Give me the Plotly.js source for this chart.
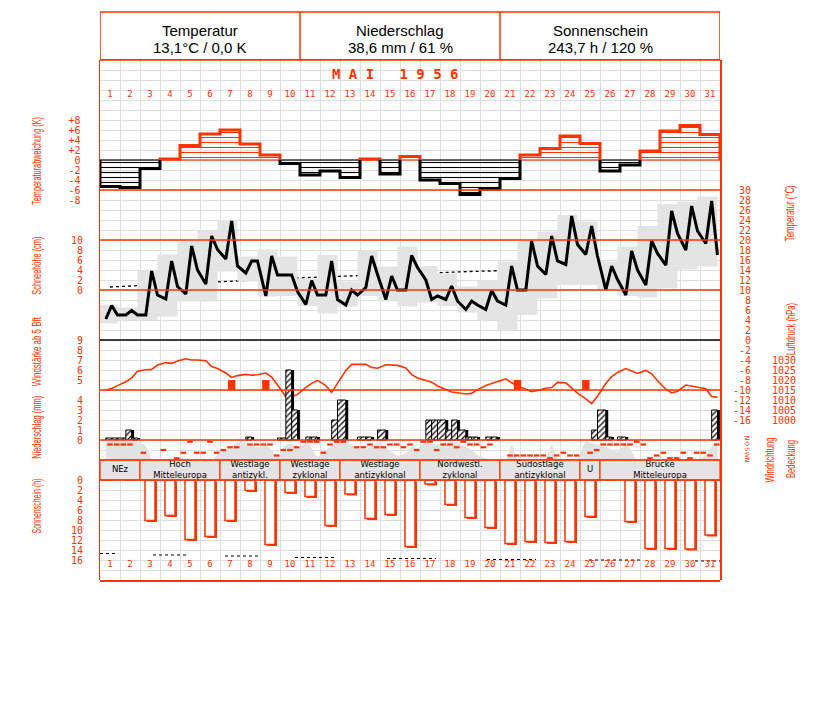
<!DOCTYPE html>
<html><head><meta charset="utf-8">
<script src="https://cdn.plot.ly/plotly-3.0.1.min.js"></script>
<style>html,body{margin:0;padding:0;background:#fff}#chart{width:827px;height:702px}</style>
</head><body><div id="chart"></div>
<script>
// ---------------- DATA ----------------
const days = [1,2,3,4,5,6,7,8,9,10,11,12,13,14,15,16,17,18,19,20,21,22,23,24,25,26,27,28,29,30,31];
const dayLabels = ['1','2','3','4','5','6','7','8','9','10','11','12','13','14','15','16','17','18','19','20','21','22','23','24','25','26','27','28','29','30','31'];
const obsHours = [7,14,21];

// daily temperature anomaly (K)
const anomaly = [-5.3,-5.5,-1.7,0.2,2.9,5.2,6.0,3.2,1.0,-0.7,-3.0,-2.2,-3.5,0.2,-2.8,0.7,-4.0,-4.7,-6.9,-5.8,-3.7,1.0,2.3,4.8,3.3,-2.2,-1.0,1.8,5.8,6.9,5.1];

// air temperature at 7, 14, 21 h (°C)
const tempObs = [4.2,6.9,5.0, 5.0,5.9,5.0, 5.0,13.8,9.0, 8.2,15.8,10.7, 9.2,18.8,14.0, 11.2,20.8,18.1,
 16.2,23.8,14.8, 13.4,15.8,15.8, 8.8,16.8,13.0, 13.0,13.0,9.7, 7.1,11.9,9.0, 9.0,15.8,8.1,
 7.0,10.0,9.0, 10.5,16.8,13.1, 8.1,12.8,10.0, 10.0,16.9,14.5, 12.0,8.1,8.8, 8.1,10.8,7.8,
 6.1,7.8,7.0, 6.1,9.9,7.8, 7.0,14.8,10.0, 10.0,19.8,14.8, 13.1,20.8,15.8, 15.1,24.8,19.1,
 17.1,22.8,16.8, 10.0,14.8,12.1, 9.0,17.8,14.0, 11.0,19.8,17.3, 15.0,25.8,21.3, 18.0,26.8,21.8,
 19.3,27.8,17.0];
// daily max / min (21h-21h)
const tMax = [7.1,6.5,14.0,17.1,19.7,21.8,24.0,16.7,18.1,16.7,12.3,17.0,11.7,18.0,14.7,18.7,14.8,13.3,10.7,11.9,15.7,20.0,21.7,25.0,23.7,15.7,18.7,22.8,27.2,27.7,28.7];
const tMin = [3.3,4.0,4.0,4.7,7.7,7.7,13.7,11.7,8.7,8.8,6.8,5.3,6.7,8.8,7.7,6.7,7.5,6.8,5.5,4.0,2.0,5.0,8.3,11.0,11.0,10.0,8.8,8.5,10.3,14.1,14.7];
// normal daily mean temperature
const tNormal = [10.6,10.8,11.0,11.2,11.4,11.6,11.8,12.0,12.2,12.4,12.6,12.7,12.8,13.0,13.2,13.3,13.4,13.6,13.7,13.8,14.0,14.1,14.2,14.3,14.4,14.5,14.6,14.8,14.9,15.0,15.1];

// air pressure at 7, 14, 21 h (hPa)
const pressure = [1015.0,1015.8,1017.2, 1019.1,1021.1,1024.4, 1025.1,1025.3,1027.5, 1028.7,1028.3,1029.5,
 1030.6,1030.0,1030.0, 1029.6,1026.7,1025.7, 1023.5,1021.3,1022.2, 1022.8,1022.4,1022.6,
 1023.5,1021.4,1017.6, 1011.5,1011.6,1012.8, 1016.3,1018.3,1019.8, 1017.2,1013.8,1018.5,
 1024.8,1027.8,1027.8, 1027.8,1026.3,1025.9, 1027.6,1027.3,1027.3, 1026.0,1022.7,1021.0,
 1019.9,1018.9,1017.0, 1015.0,1014.0,1013.6, 1013.0,1013.3,1015.2, 1017.2,1018.1,1019.1,
 1020.6,1018.6,1017.0, 1015.4,1014.2,1014.8, 1015.9,1016.2,1018.8, 1018.6,1015.8,1013.4,
 1010.6,1008.2,1011.9, 1018.2,1021.7,1023.8, 1025.7,1024.4,1023.3, 1024.8,1023.1,1019.6,
 1015.4,1013.5,1014.4, 1017.5,1017.0,1016.2, 1015.6,1011.7,1011.3];

// wind force >= 5 Bft
const windDay = [7,9,21,25];
const windHour = [14,7,21,7];
const windForce = [5,5,5,5];

// precipitation per observation interval (ending at day/hour)
const precDay  = [1,1,2,2,2, 8, 10,10,10, 11,11, 12,13, 14,14, 15, 17,17,18,18,18,19,19,19,20,20, 25,26,26, 27, 31];
const precHour = [14,21,7,14,21, 14, 7,14,21, 14,21, 21,7, 7,14, 7, 14,21,7,14,21,7,14,21,14,21, 21,7,14, 7, 21];
const precMm   = [0.2,0.2,0.2,1.0,0.2, 0.3, 0.2,7.0,3.0, 0.3,0.3, 2.0,4.0, 0.3,0.3, 1.0, 2.0,2.0,2.0,1.0,2.0,1.0,0.3,0.3,0.3,0.3, 1.0,3.0,0.3, 0.3, 3.0];

// cloud cover (octas) at 7, 14, 21 h
const cloud = [8,8,8, 8,8,7, 5.7,0.5,0, 0,0,0, 0,0,0, 0,0,2, 4,5.3,7, 6.8,6,5.2, 6,4,1.3, 6,6.7,4.7,
 6.7,4.7,1.3, 4,5.3,7.3, 7,6,4.7, 4.4,5.6,6.7, 5.3,3.3,1.7, 2.7,5.3,4.7, 7.3,6.3,6.3, 6.7,7.3,6.7,
 5.3,4,2, 0.7,0.3,0, 0,6,0.4, 0,0,0, 1,6,0.4, 0.3,0.3,0.5, 7.3,6.7,6.3, 5.3,4,3.3, 6.7,3.3,0,
 0,0,0, 0,0,0, 0.4,0.7,0.4, 2,5.3,7];

// wind direction (degrees), three readings per day
const windDir = [null,90,90, 90,90,null, 225,360,null, 180,null,315, 225,45,225, 225,45,225, 180,135,135,
 null,90,90, 90,90,270, 180,180,135, 45,45,45, 225,90,45, 45,null,135, 135,90,135, 135,90,90,
 135,90,180, 45,45,180, 90,90,135, 45,90,90, 135,90,null, null,270,270, 270,270,270, 270,315,270,
 225,270,270, null,225,180, 90,90,90, 90,90,45, 90,315,270, 225,315,315, 225,315,225, 225,270,90];
const dirLabels = ['N','O','S','W','N'];

// weather types (Großwetterlagen)
const wtLabel = ['NEz','Hoch<br>Mitteleuropa','Westlage<br>antizykl.','Westlage<br>zyklonal','Westlage<br>antizyklonal','Nordwestl.<br>zyklonal','Südostlage<br>antizyklonal','U','Brücke<br>Mitteleuropa'];
const wtFirst = [1,3,7,10,13,17,21,25,26];
const wtLast  = [2,6,9,12,16,20,24,25,31];

// sunshine duration (h)
const sunshine = [0,0,8.1,7.1,11.9,11.3,8.1,2.1,12.9,2.5,3.3,9.1,2.8,7.7,6.9,13.3,0.8,4.9,7.5,9.5,12.7,12.3,12.5,12.3,7.3,0,8.3,13.7,13.7,13.8,11.0];
// reference sunshine line segments (day-of-month positions, h)
const sunRefStart = [0,2.65,6.25,9.75,14.35,19.35,24.45,29.75];
const sunRefEnd   = [0.9,4.4,7.9,11.8,16.8,21.8,27.1,31];
const sunRefVal   = [14.7,15.0,15.2,15.5,15.7,15.9,16.0,16.2];

const anomTicks = [8,6,4,2,0,-2,-4,-6,-8];
const anomTickText = ['+8','+6','+4','+2','0','-2','-4','-6','-8'];
const tempTicks = [30,28,26,24,22,20,18,16,14,12,10,8,6,4,2,0,-2,-4,-6,-8,-10,-12,-14,-16];
const snowTicks = [10,8,6,4,2,0];
const windTicks = [9,8,7,6,5];
const presTicks = [1030,1025,1020,1015,1010,1005,1000];
const precTicks = [4,3,2,1,0];
const sunTicks = [0,2,4,6,8,10,12,14,16];

// ---------------- LAYOUT HELPERS ----------------
const RED = '#ff3300';
const GRID = '#dedede';
const PT = 60, PB = 580, PL = 100, PW = 720;   // plot area in px (paper width 720)
function rng(v0, px0, ppu){ return [v0 - (PB - px0)/ppu, v0 + (px0 - PT)/ppu]; }
function py(px){ return (PB - px)/(PB - PT); }
function pxX(px){ return (px - PL)/PW; }
const tickFont = {family:'DejaVu Sans Mono', size:10, color:RED};

const obsT = [];
days.forEach(d => obsHours.forEach(h => obsT.push(d - 1 + h/24)));
const slotT = [];
days.forEach(d => [0,1,2].forEach(k => slotT.push(d - 1 + (k + 0.5)/3)));

function outline(vals, sign){
  const xs=[], ys=[];
  const c = vals.map(v => sign>0 ? Math.max(v,0) : Math.min(v,0));
  for (let i=0;i<c.length;i++){
    if (c[i]!==0){
      if (i===0 || c[i-1]===0){ xs.push(i); ys.push(0); }
      xs.push(i, i+1); ys.push(c[i], c[i]);
      if (i===c.length-1 || c[i+1]===0){ xs.push(i+1, null); ys.push(0, null); }
    }
  }
  return {x:xs, y:ys};
}
function zeroLine(vals, sign){
  const xs=[], ys=[];
  vals.forEach((v,i)=>{ if (sign>0 ? v>0 : v<0){ xs.push(i, i+1, null); ys.push(0,0,null);} });
  return {x:xs, y:ys};
}

const traces = [];
// ---- temperature subplot (x, y) : normal, min/max boxes, observations
traces.push({type:'scatter', mode:'lines', xaxis:'x', yaxis:'y', x:days.map(d=>d-0.5), y:tNormal,
  line:{color:'#000',width:1.3,dash:'dot'}});
const bx=[], by=[];
days.forEach((d,i)=>{ const a=d-1.125, b=d-0.125; bx.push(a,b,b,a,a,null); by.push(tMin[i],tMin[i],tMax[i],tMax[i],tMin[i],null); });
traces.push({type:'scatter', mode:'lines', xaxis:'x', yaxis:'y', x:bx, y:by, fill:'toself', fillcolor:'#e4e4e4',
  line:{width:0, color:'#e4e4e4'}});
traces.push({type:'scatter', mode:'lines', xaxis:'x', yaxis:'y', x:obsT, y:tempObs, line:{color:'#000',width:3}});

// ---- anomaly subplot (x2, y2)
traces.push({type:'bar', xaxis:'x2', yaxis:'y2', x:days.map(d=>d-0.5), y:anomaly, width:1,
  marker:{color:anomaly.map(v=>v>=0?RED:'#000'), line:{width:0},
    pattern:{shape:'-', size:5, solidity:0.22, fillmode:'replace'}}});
const zp = zeroLine(anomaly,1), zn = zeroLine(anomaly,-1);
traces.push({type:'scatter', mode:'lines', xaxis:'x2', yaxis:'y2', x:zp.x, y:zp.y, line:{color:RED,width:1.2}});
traces.push({type:'scatter', mode:'lines', xaxis:'x2', yaxis:'y2', x:zn.x, y:zn.y, line:{color:'#000',width:1.2}});
const op = outline(anomaly,1), on = outline(anomaly,-1);
traces.push({type:'scatter', mode:'lines', xaxis:'x2', yaxis:'y2', x:op.x, y:op.y, line:{color:RED,width:3}});
traces.push({type:'scatter', mode:'lines', xaxis:'x2', yaxis:'y2', x:on.x, y:on.y, line:{color:'#000',width:3}});
traces.push({type:'scatter', mode:'text', xaxis:'x2', yaxis:'y2', x:days.map(d=>d-0.5), y:days.map(()=>13), text:dayLabels,
  textfont:{family:'DejaVu Sans Mono', size:9, color:RED}, cliponaxis:false});

// ---- wind force (y4) and pressure (y5)
traces.push({type:'bar', xaxis:'x2', yaxis:'y4', x:windDay.map((d,i)=>d-1+windHour[i]/24), base:4, y:windForce.map(v=>v-4), width:0.37,
  marker:{color:RED, line:{width:0}}});
traces.push({type:'scatter', mode:'lines', xaxis:'x2', yaxis:'y5', x:obsT, y:pressure, line:{color:RED,width:1.6}});

// ---- precipitation (y6)
const pEnd = precDay.map((d,i)=>d-1+precHour[i]/24);
const pStart = pEnd.map((e,i)=> e - (precHour[i]===7 ? 10 : 7)/24);
traces.push({type:'bar', xaxis:'x2', yaxis:'y6', x:pStart.map((s,i)=>(s+pEnd[i])/2+0.12), y:precMm, width:pEnd.map((e,i)=>e-pStart[i]),
  marker:{color:'#000', line:{width:0}}});
traces.push({type:'bar', xaxis:'x2', yaxis:'y6', x:pStart.map((s,i)=>(s+pEnd[i])/2), y:precMm, width:pEnd.map((e,i)=>e-pStart[i]),
  marker:{color:'#fff', line:{width:1,color:'#000'}, pattern:{shape:'/', size:4, solidity:0.3, fgcolor:'#000', bgcolor:'#fff', fillmode:'replace'}}});

// ---- cloud cover (y7) and wind direction (y8)
traces.push({type:'scatter', mode:'lines', xaxis:'x2', yaxis:'y7', x:obsT, y:cloud, fill:'tozeroy', fillcolor:'#e2e2e2',
  line:{width:0, shape:'spline', smoothing:0.6, color:'#e2e2e2'}});
traces.push({type:'scatter', mode:'markers', xaxis:'x2', yaxis:'y8', x:slotT, y:windDir,
  marker:{symbol:'line-ew', size:4, line:{width:2.2,color:RED}, color:RED}});

// ---- weather types (y9)
traces.push({type:'bar', xaxis:'x2', yaxis:'y9', x:wtFirst.map((f,i)=>(f-1+wtLast[i])/2), width:wtFirst.map((f,i)=>wtLast[i]-f+1),
  base:0, y:wtFirst.map(()=>1), marker:{color:'#e4e4e4', line:{width:1.2,color:RED}}});
traces.push({type:'scatter', mode:'text', xaxis:'x2', yaxis:'y9', x:wtFirst.map((f,i)=>(f-1+wtLast[i])/2), y:wtFirst.map(()=>0.5),
  text:wtLabel, textfont:{family:'DejaVu Sans', size:8.5, color:'#000'}});

// ---- sunshine (y3)
traces.push({type:'bar', xaxis:'x2', yaxis:'y3', x:days.map(d=>d-0.5+0.1), base:0.3, y:sunshine, width:0.5,
  marker:{color:RED, line:{width:0}}});
traces.push({type:'bar', xaxis:'x2', yaxis:'y3', x:days.map(d=>d-0.5), base:0, y:sunshine, width:0.5,
  marker:{color:'#fff', line:{width:1.5,color:RED}}});
const srx=[], sry=[];
sunRefStart.forEach((s,i)=>{ srx.push(s, sunRefEnd[i], null); sry.push(sunRefVal[i], sunRefVal[i], null); });
traces.push({type:'scatter', mode:'lines', xaxis:'x2', yaxis:'y3', x:srx, y:sry, line:{color:'#000', width:1.2, dash:'dot'}});
traces.push({type:'scatter', mode:'text', xaxis:'x2', yaxis:'y3', x:days.map(d=>d-0.5), y:days.map(()=>17), text:dayLabels,
  textfont:{family:'DejaVu Sans Mono', size:9, color:RED}, cliponaxis:false});

traces.forEach(t=>{ t.showlegend=false; t.hoverinfo='skip'; });

// ---------------- AXES ----------------
function yax(range, extra){
  return Object.assign({domain:[0,1], range:range, showgrid:false, zeroline:false, showline:false,
    showticklabels:false, ticks:'', fixedrange:true, anchor:'x2'}, extra||{});
}
function leftTicks(vals, text){
  return {anchor:'x2', side:'left', showticklabels:true, tickmode:'array', tickvals:vals, ticktext:text||vals.map(String),
    tickfont:tickFont, ticklabelstandoff:16};
}
function freeTicks(vals, text, xpx, font){
  return {anchor:'free', side:'left', position:pxX(xpx), showticklabels:true, tickmode:'array', tickvals:vals,
    ticktext:text||vals.map(String), tickfont:font||tickFont};
}
// grid ticks of temperature axis every 2 °C (10 px)
const tRange = rng(0,340,5);
const gridVals = [], gridText = [];
for (let v = Math.ceil(tRange[0]/2)*2; v <= tRange[1]; v += 2){ gridVals.push(v); gridText.push(tempTicks.indexOf(v)>=0 ? String(v) : ''); }

const layout = {
  width:827, height:702, paper_bgcolor:'#fff', plot_bgcolor:'rgba(0,0,0,0)',
  margin:{l:PL, r:827-PL-PW, t:PT, b:702-PB, pad:0},
  barmode:'overlay', showlegend:false,
  xaxis:{domain:[0, 620/PW], range:[0,31], tick0:0, dtick:1, showgrid:true, gridcolor:GRID, gridwidth:1, anchor:'y',
    zeroline:false, showticklabels:false, ticks:'', showline:true, mirror:true, linecolor:RED, linewidth:1.5, fixedrange:true},
  xaxis2:{domain:[0, 620/PW], range:[0,31], showgrid:false, zeroline:false, showticklabels:false, ticks:'', showline:false,
    anchor:'y2', fixedrange:true},
  yaxis:{domain:[0,1], range:tRange, tickmode:'array', tickvals:gridVals, ticktext:gridText, showgrid:true, gridcolor:GRID, gridwidth:1,
    zeroline:false, showline:false, ticks:'', anchor:'free', side:'left', position:pxX(751), tickfont:tickFont, fixedrange:true},
  yaxis2: yax(rng(0,160,5), Object.assign(leftTicks(anomTicks, anomTickText), {showline:true, mirror:true, linecolor:RED, linewidth:1.5})),
  yaxis3: yax(rng(0,480,-5), leftTicks(sunTicks)),
  yaxis4: yax(rng(9,340,10), leftTicks(windTicks)),
  yaxis5: yax(rng(1015,390,2), freeTicks(presTicks, null, 796)),
  yaxis6: yax(rng(0,440,10), leftTicks(precTicks)),
  yaxis7: yax(rng(0,460,2.5)),
  yaxis8: yax(rng(0,439,-22/360), Object.assign(freeTicks([0,90,180,270,360], dirLabels, 751,
      {family:'DejaVu Sans', size:6, color:RED}), {tickangle:90})),
  yaxis9: yax(rng(0,480,20)),
  shapes:[],
  annotations:[]
};
// snow depth axis (no snow this month)
layout.yaxis10 = yax(rng(0,290,5), leftTicks(snowTicks));
traces.push({type:'scatter', mode:'lines', xaxis:'x2', yaxis:'y10', x:[], y:[], showlegend:false, hoverinfo:'skip'});

// header box and panel separators
const hdrTop = py(12);
layout.shapes.push({type:'rect', xref:'x', yref:'paper', x0:0, x1:31, y0:1, y1:hdrTop, line:{color:RED,width:1.5}});
[10,20].forEach(v=>layout.shapes.push({type:'line', xref:'x', yref:'paper', x0:v, x1:v, y0:1, y1:hdrTop, line:{color:RED,width:1.5}}));
[['y2',-6,RED],['y',20,RED],['y',10,RED],['y',0,'#000'],['y5',1015,RED],['y6',0,RED],['y9',1,RED],['y9',0,RED]]
  .forEach(([ax,v,c])=>layout.shapes.push({type:'line', xref:'x', yref:ax, x0:0, x1:31, y0:v, y1:v, line:{color:c,width:1.3}}));

// header texts
const hdr = [['Temperatur','13,1°C / 0,0 K',5],['Niederschlag','38,6 mm / 61 %',15],['Sonnenschein','243,7 h / 120 %',25]];
hdr.forEach(([a,b,x])=>{
  layout.annotations.push({xref:'x', yref:'paper', x:x, y:py(31), xanchor:'center', yanchor:'middle', text:a, showarrow:false, font:{family:'Liberation Sans', size:15, color:'#000'}});
  layout.annotations.push({xref:'x', yref:'paper', x:x, y:py(47), xanchor:'center', yanchor:'middle', text:b, showarrow:false, font:{family:'Liberation Sans', size:15, color:'#000'}});
});
layout.annotations.push({xref:'paper', yref:'paper', x:pxX(330), xanchor:'left', y:py(74), yanchor:'middle', showarrow:false,
  text:'M\u00a0A\u00a0I\u00a0\u00a0\u00a01\u00a09\u00a05\u00a06', font:{family:'DejaVu Sans Mono', size:14, color:RED, weight:'bold'}});

// axis titles (text, x px, y px, length px)
const titleFont = {family:'Liberation Sans', size:12, color:RED};
const titles = [['Temperaturabweichung (K)',37,161,88],['Schneehöhe (cm)',37,266,58],['Windstärke ab 5 Bft',37,352,69],
 ['Niederschlag (mm)',37,428,63],['Sonnenschein (h)',37,506,55],
 ['Temperatur (°C)',790,214,56],['Luftdruck (hPa)',791,329,52],['Windrichtung',770,460,45],['Bedeckung',791,459,38]];
const titleStart = layout.annotations.length;
titles.forEach(([t,x,y])=>layout.annotations.push({xref:'paper', yref:'paper', x:pxX(x), y:py(y), xanchor:'center', yanchor:'middle',
   text:t, textangle:-90, showarrow:false, font:titleFont}));

Plotly.newPlot('chart', traces, layout, {displayModeBar:false, staticPlot:true}).then(()=>{
  // condensed lettering of the rotated titles
  titles.forEach((tt,k)=>{
    const el = document.querySelector('#chart g.annotation[data-index="'+(titleStart+k)+'"] text.annotation-text');
    if (el){ el.setAttribute('textLength', tt[3]); el.setAttribute('lengthAdjust','spacingAndGlyphs'); }
  });
});
</script></body></html>
